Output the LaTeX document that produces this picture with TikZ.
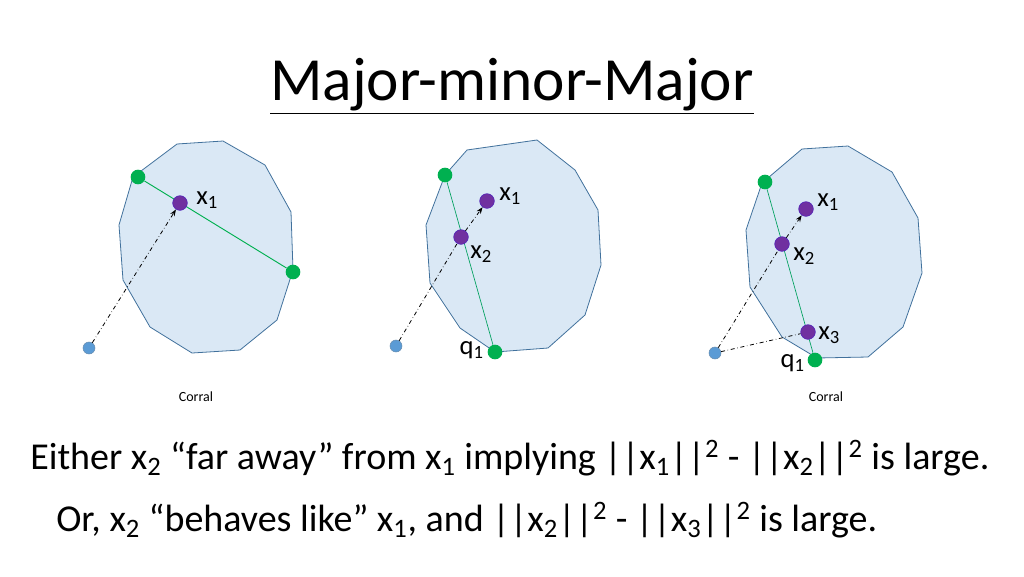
\documentclass[tikz,border=0pt]{standalone}
\usepackage{fontspec}
\setmainfont{Carlito}
\usetikzlibrary{arrows.meta}
\definecolor{pfill}{HTML}{DAE8F5}
\definecolor{pedge}{HTML}{41719C}
\definecolor{gr}{HTML}{00B050}
\definecolor{pu}{HTML}{7030A0}
\definecolor{bl}{HTML}{5B9BD5}
\begin{document}
\begin{tikzpicture}[x=0.75pt,y=-0.75pt,
  poly/.style={draw=pedge,fill=pfill,line width=0.6pt},
  gdot/.style={circle,fill=gr,inner sep=0pt,minimum size=11pt},
  pdot/.style={circle,fill=pu,draw=pu!70!blue,inner sep=0pt,minimum size=11pt},
  bdot/.style={circle,fill=bl,draw=pedge!80,inner sep=0pt,minimum size=9pt},
  lbl/.style={font=\fontsize{20}{20}\selectfont,inner sep=0pt},
  chord/.style={gr,line width=0.7pt},
  lchord/.style={gr!70!teal,line width=0.5pt},
  path/.style={dash dot,line width=0.6pt},
  arr/.style={path,-{Stealth[length=5pt]}}]
\useasboundingbox (0,0) rectangle (1024,576);
\node[font=\fontsize{46}{46}\selectfont,inner sep=0pt] (title) at (512,86) {\underline{Major-minor-Major}};
% left
\draw[poly] (177,144)--(223,141)--(265,165)--(291,212)--(293,270)--(277,320)--(240,350)--(192,353)--(150,327)--(123,280)--(119,225)--(133,177)--cycle;
\node[gdot] (a1) at (138,177) {};
\node[gdot] (a2) at (293,272) {};
\draw[chord] (a1)--(a2);
\node[pdot] (ax1) at (180,203) {};
\node[bdot] (ab) at (89,348) {};
\draw[arr] (ab)--(ax1);
\node[lbl,anchor=west] (axl) at (196,200) {x\textsubscript{1}};
\node[font=\fontsize{10.5}{10.5}\selectfont] (c1) at (196,397) {Corral};
% middle
\draw[poly] (467,150)--(537,140)--(575,170)--(598,210)--(601,265)--(585,315)--(548,348)--(495,352)--(460,328)--(430,283)--(426,225)--(445,175)--cycle;
\node[gdot] (b1) at (445,175) {};
\node[gdot] (b2) at (495,352) {};
\draw[lchord] (b1)--(b2);
\node[pdot] (bx1) at (487,201) {};
\node[pdot] (bx2) at (461,237) {};
\node[bdot] (bb) at (396,346) {};
\draw[path] (bb)--(bx2);
\draw[arr] (bx2)--(bx1);
\node[lbl,anchor=west] (bx1l) at (499,196) {x\textsubscript{1}};
\node[lbl,anchor=west] (bx2l) at (470,254) {x\textsubscript{2}};
\node[lbl,anchor=east] (bql) at (484,350) {q\textsubscript{1}};
% right
\draw[poly] (802,149)--(848,146)--(892,172)--(918,218)--(922,273)--(903,327)--(868,357)--(817,358)--(782,337)--(750,287)--(746,230)--(762,183)--cycle;
\node[gdot] (c1g) at (765,182) {};
\node[gdot] (c2g) at (815,360) {};
\draw[lchord] (c1g)--(c2g);
\node[pdot] (cx1) at (806,209) {};
\node[pdot] (cx2) at (782,244) {};
\node[pdot] (cx3) at (808,332) {};
\node[bdot] (cb) at (715,353) {};
\draw[path] (cb)--(cx2);
\draw[arr] (cx2)--(cx1);
\draw[path] (cb)--(cx3);
\node[lbl,anchor=west] (cx1l) at (817,202) {x\textsubscript{1}};
\node[lbl,anchor=west] (cx2l) at (793,256) {x\textsubscript{2}};
\node[lbl,anchor=west] (cx3l) at (818,335) {x\textsubscript{3}};
\node[lbl,anchor=east] (cql) at (805,363) {q\textsubscript{1}};
\node[font=\fontsize{10.5}{10.5}\selectfont] (c2) at (826,397) {Corral};
% bottom
\node[font=\fontsize{28.5}{28.5}\selectfont,anchor=west,inner sep=0pt] (t1) at (30,458) {Either x\textsubscript{2} “far away” from x\textsubscript{1} implying ||x\textsubscript{1}||\textsuperscript{2} - ||x\textsubscript{2}||\textsuperscript{2} is large.};
\node[font=\fontsize{28.5}{28.5}\selectfont,anchor=west,inner sep=0pt] (t2) at (56,520) {Or, x\textsubscript{2} “behaves like” x\textsubscript{1}, and ||x\textsubscript{2}||\textsuperscript{2} - ||x\textsubscript{3}||\textsuperscript{2} is large.};
\end{tikzpicture}
\end{document}
